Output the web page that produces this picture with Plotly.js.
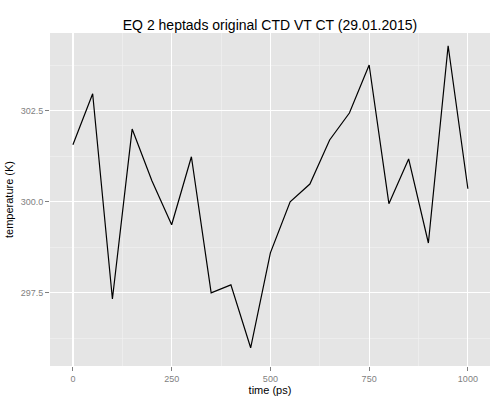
<!DOCTYPE html>
<html>
<head>
<script src="https://cdn.plot.ly/plotly-3.0.1.min.js"></script>
<style>body{margin:0}</style>
</head>
<body>
<div id="graph" style="width:500px;height:400px"></div>
<script>
// time (ps) and temperature (K)
let times = [0, 50, 100, 150, 200, 250, 300, 350, 400, 450, 500, 550, 600, 650, 700, 750, 800, 850, 900, 950, 1000];
let temps = [301.57, 302.97, 297.33, 302.0, 300.58, 299.37, 301.24, 297.5, 297.72, 295.99, 298.6, 300.0,
  300.49, 301.7, 302.44, 303.76, 299.95, 301.18, 298.87, 304.29, 300.36];

let trace = {
  x: times,
  y: temps,
  type: "scatter",
  mode: "lines",
  line: { color: "black", width: 1.2 },
  hoverinfo: "skip",
};

let layout = {
  width: 500,
  height: 400,
  paper_bgcolor: "white",
  plot_bgcolor: "#e5e5e5",
  font: { family: "Liberation Sans, Arial", color: "black" },
  title: { text: "EQ 2 heptads original CTD VT CT (29.01.2015)", font: { size: 14 }, x: 0.54, xanchor: "center", y: 0.95 },
  margin: { l: 50, r: 10, t: 33, b: 34 },
  showlegend: false,
  xaxis: {
    range: [-58, 1056],
    tickvals: [0, 250, 500, 750, 1000],
    ticks: "outside", ticklen: 4, tickcolor: "#7f7f7f",
    tickfont: { size: 9, color: "#7f7f7f" },
    gridcolor: "white", gridwidth: 1.2, zeroline: false,
    minor: { tickvals: [125, 375, 625, 875], showgrid: true, gridcolor: "#f2f2f2", gridwidth: 0.6 },
    title: { text: "time (ps)", font: { size: 11 }, standoff: 2 },
  },
  yaxis: {
    range: [295.49, 304.64],
    tickvals: [297.5, 300, 302.5],
    ticktext: ["297.5", "300.0", "302.5"],
    ticks: "outside", ticklen: 4, tickcolor: "#7f7f7f",
    tickfont: { size: 9, color: "#7f7f7f" },
    gridcolor: "white", gridwidth: 1.2, zeroline: false,
    minor: { tickvals: [296.25, 298.75, 301.25, 303.75], showgrid: true, gridcolor: "#f2f2f2", gridwidth: 0.6 },
    title: { text: "temperature (K)", font: { size: 11 }, standoff: 4 },
  },
};

Plotly.newPlot("graph", [trace], layout, { staticPlot: true });
</script>
</body>
</html>
